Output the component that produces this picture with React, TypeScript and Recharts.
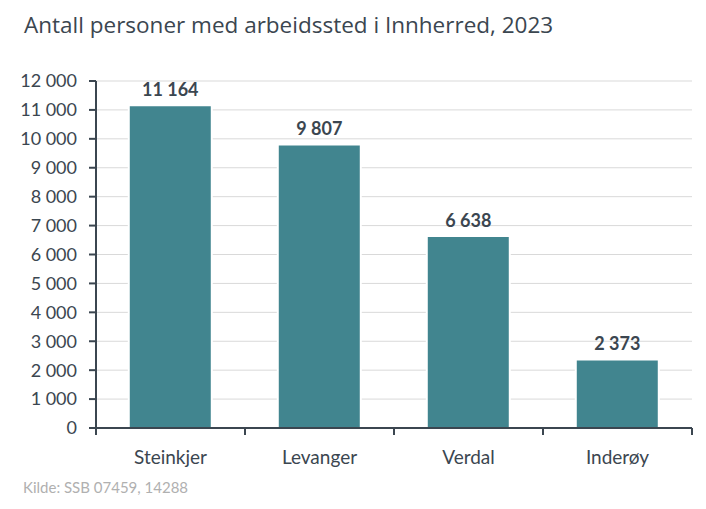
import { BarChart, Bar, XAxis, YAxis, CartesianGrid, LabelList } from 'recharts'

const municipalities = ['Steinkjer', 'Levanger', 'Verdal', 'Inderøy']
const employed = [11164, 9807, 6638, 2373]
const yTicks = [0, 1000, 2000, 3000, 4000, 5000, 6000, 7000, 8000, 9000, 10000, 11000, 12000]

const TITLE = 'Antall personer med arbeidssted i Innherred, 2023'
const SOURCE = 'Kilde: SSB 07459, 14288'

const W = 706
const H = 509
const X_HEIGHT = 81
const MARGIN = { top: 81, right: 14, bottom: 0, left: 0 }
const Y_WIDTH = 96
const AXIS = '#3b4650'
const BAR = '#41858f'
const FONT = 'Lato, "Open Sans", sans-serif'

const data = municipalities.map((name, i) => ({ name, value: employed[i] }))

function fmt(v: number) {
  return String(v).replace(/\B(?=(\d{3})+(?!\d))/g, '\u00a0')
}

const band = (W - Y_WIDTH - MARGIN.right) / municipalities.length

// category label plus tick marks on the category boundaries
function CatTick(props: any) {
  const { x, y, payload, index } = props
  const left = x - band / 2
  const right = x + band / 2
  return (
    <g>
      <line x1={left} x2={left} y1={y - 8} y2={y - 1} stroke={AXIS} strokeWidth={2} />
      {index === municipalities.length - 1 && (
        <line x1={right} x2={right} y1={y - 8} y2={y - 1} stroke={AXIS} strokeWidth={2} />
      )}
      <text x={x} y={y + 28} textAnchor="middle" fill={AXIS} fontSize={19} fontFamily={FONT}>
        {payload.value}
      </text>
    </g>
  )
}

export default function App() {
  return (
    <div style={{ position: 'absolute', left: 0, top: 0, width: W, height: H, background: '#fff' }}>
      <div style={{ position: 'absolute', left: 24, top: 9, fontSize: 22.5, color: '#3b4650', fontFamily: '"Open Sans", sans-serif', whiteSpace: 'nowrap' }}>
        {TITLE}
      </div>
      <BarChart width={W} height={H} data={data} margin={MARGIN} barCategoryGap="22%">
        <CartesianGrid vertical={false} stroke="#d9d9d9" />
        <XAxis
          dataKey="name"
          axisLine={{ stroke: AXIS, strokeWidth: 2 }}
          tickLine={false}
          tick={<CatTick />}
          interval={0}
          height={X_HEIGHT}
        />
        <YAxis
          width={Y_WIDTH}
          domain={[0, 12000]}
          ticks={yTicks}
          interval={0}
          tickFormatter={fmt}
          axisLine={{ stroke: AXIS, strokeWidth: 2 }}
          tickLine={{ stroke: AXIS, strokeWidth: 2 }}
          tickSize={7}
          tickMargin={12}
          tick={{ fill: AXIS, fontSize: 18, fontFamily: FONT }}
        />
        <Bar dataKey="value" fill={BAR} stroke="#fff" strokeWidth={2} isAnimationActive={false}>
          <LabelList
            dataKey="value"
            position="top"
            offset={9}
            formatter={(v: any) => fmt(Number(v))}
            style={{ fill: AXIS, fontSize: 18, fontWeight: 700, fontFamily: FONT }}
          />
        </Bar>
      </BarChart>
      <div style={{ position: 'absolute', left: 23, top: 478, fontSize: 15, color: '#b0b0b0', fontFamily: FONT, whiteSpace: 'nowrap' }}>
        {SOURCE}
      </div>
    </div>
  )
}
